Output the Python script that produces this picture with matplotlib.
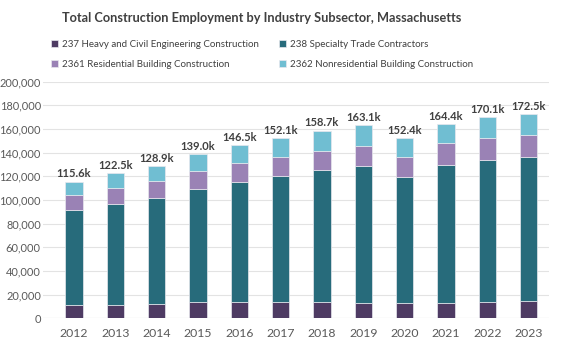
import matplotlib

matplotlib.use("Agg")

import matplotlib.pyplot as plt
import numpy as np

years = ["2012", "2013", "2014", "2015", "2016", "2017",
         "2018", "2019", "2020", "2021", "2022", "2023"]

# employment by subsector (jobs)
heavy_civil = [11500, 11500, 12300, 13500, 14000, 13800, 13800, 13200, 13200, 13200, 13800, 14400]
specialty = [79800, 85400, 89400, 96100, 101200, 106200, 111600, 115800, 106500, 116600, 120000, 121900]
residential = [12900, 13200, 14400, 14900, 15800, 16100, 16000, 16900, 16400, 18100, 18900, 18700]
nonresidential = [11400, 12400, 12800, 14500, 15500, 16000, 17300, 17200, 16300, 16500, 17400, 17500]
total_labels = ["115.6k", "122.5k", "128.9k", "139.0k", "146.5k", "152.1k",
                "158.7k", "163.1k", "152.4k", "164.4k", "170.1k", "172.5k"]

series = [
    ("237 Heavy and Civil Engineering Construction", heavy_civil, "#4E3B63"),
    ("238 Specialty Trade Contractors", specialty, "#276B7B"),
    ("2361 Residential Building Construction", residential, "#9A82B5"),
    ("2362 Nonresidential Building Construction", nonresidential, "#70BED2"),
]

plt.rcParams["font.family"] = ["Lato", "DejaVu Sans"]

fig = plt.figure(figsize=(5.65, 3.44), dpi=100)
ax = fig.add_axes([0.076, 0.0747, 0.896, 0.688])

x = np.arange(len(years))
bottom = np.zeros(len(years))
handles = []
for name, values, color in series:
    bars = ax.bar(x, values, width=0.42, bottom=bottom, color=color,
                  edgecolor="#E8E8EE", linewidth=0.5, label=name, zorder=3)
    handles.append(bars)
    bottom += np.asarray(values, dtype=float)

for xi, top, text in zip(x, bottom, total_labels):
    ax.text(xi, top + 1800, text, ha="center", va="bottom", fontsize=8,
            fontweight="bold", color="#404040")

ax.set_xlim(-0.75, 11.5)
ax.set_ylim(0, 200000)
ax.set_yticks(np.arange(0, 200001, 20000))
ax.yaxis.set_major_formatter(matplotlib.ticker.FuncFormatter(lambda v, p: f"{int(v):,}"))
ax.set_xticks(x)
ax.set_xticklabels(years)
ax.tick_params(axis="both", length=0, colors="#595959")
ax.tick_params(axis="x", pad=7, labelsize=8.8)
ax.tick_params(axis="y", pad=1.5, labelsize=7.9)
ax.grid(axis="y", color="#E3E3E3", linewidth=0.8, zorder=0)
for spine in ax.spines.values():
    spine.set_visible(False)
ax.axhline(0, color="#D9D9D9", linewidth=0.8, zorder=2)

fig.text(0.464, 0.947, "Total Construction Employment by Industry Subsector, Massachusetts",
         ha="center", va="center", fontsize=9.2, fontweight="bold", color="#404040")

# legend fills column-wise, so order handles to give 237/238 on the first row
order = [0, 2, 1, 3]
fig.legend(handles=[handles[i] for i in order], loc="upper left", bbox_to_anchor=(0.078, 0.904),
           ncol=2, frameon=False, fontsize=7, labelcolor="#404040", handlelength=0.75,
           handleheight=0.75, handletextpad=0.35, columnspacing=2.1, labelspacing=1.1,
           borderpad=0.2)

fig.savefig("out.png", dpi=100)
